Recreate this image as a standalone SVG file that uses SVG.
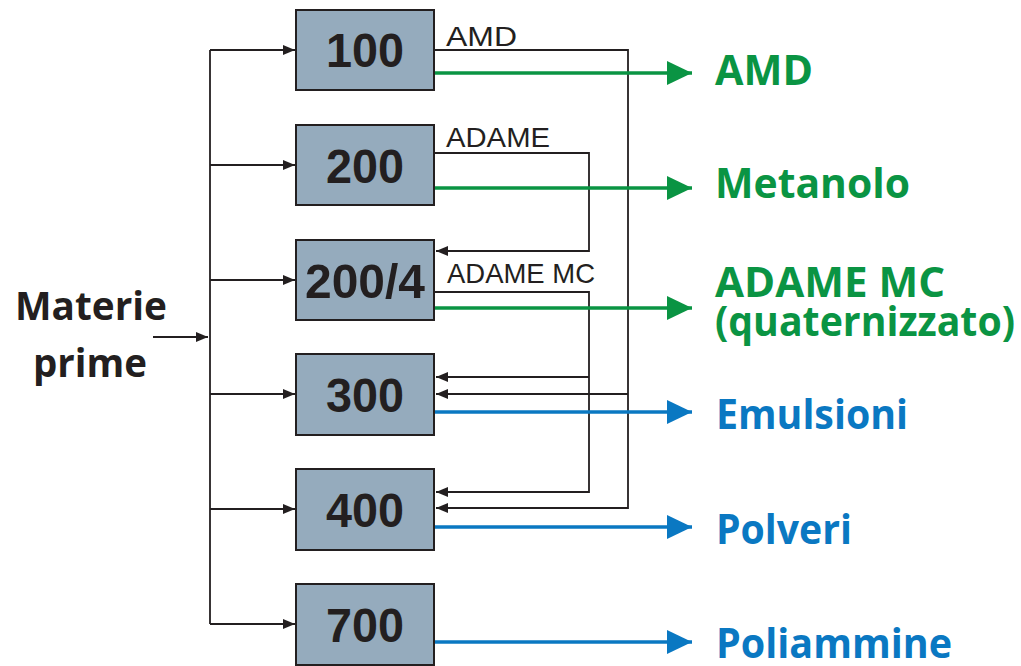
<svg xmlns="http://www.w3.org/2000/svg" width="1021" height="666" viewBox="0 0 1021 666">
<style>
.box{fill:#95abbd;stroke:#231f20;stroke-width:2}
.num{font-family:"Liberation Sans",Arial,sans-serif;font-weight:bold;font-size:49px;fill:#231f20;text-anchor:middle}
.lbl{font-family:"Liberation Sans",Arial,sans-serif;font-size:28px;fill:#231f20}
.k{fill:none;stroke:#231f20;stroke-width:1.8}
.g{fill:none;stroke:#0a9443;stroke-width:3.5}
.b{fill:none;stroke:#0a78c2;stroke-width:3.5}
.out{font-family:"Open Sans","Noto Sans",sans-serif;font-weight:bold;font-size:41px}
.gt{fill:#0a9443}
.bt{fill:#0a78c2}
.mp{font-family:"Open Sans","Noto Sans",sans-serif;font-weight:bold;font-size:40px;fill:#231f20}
</style>
<defs>
<marker id="ak" markerWidth="12" markerHeight="10" refX="12" refY="5" orient="auto" markerUnits="userSpaceOnUse"><path d="M0,0 L12,5 L0,10 Z" fill="#231f20"/></marker>
<marker id="ag" markerWidth="25" markerHeight="24" refX="25" refY="12" orient="auto" markerUnits="userSpaceOnUse"><path d="M0,0 L25,12 L0,24 Z" fill="#0a9443"/></marker>
<marker id="ab" markerWidth="25" markerHeight="24" refX="25" refY="12" orient="auto" markerUnits="userSpaceOnUse"><path d="M0,0 L25,12 L0,24 Z" fill="#0a78c2"/></marker>
</defs>
<g id="connectors">
<path class="k" d="M153,337 H208" marker-end="url(#ak)"/>
<path class="k" d="M210,50 V624"/>
<path class="k" d="M210,50 H295" marker-end="url(#ak)"/>
<path class="k" d="M210,165 H295" marker-end="url(#ak)"/>
<path class="k" d="M210,280 H295" marker-end="url(#ak)"/>
<path class="k" d="M210,394 H295" marker-end="url(#ak)"/>
<path class="k" d="M210,509 H295" marker-end="url(#ak)"/>
<path class="k" d="M210,624 H295" marker-end="url(#ak)"/>
<path class="k" d="M434,50 H628 V508 H436" marker-end="url(#ak)"/>
<path class="k" d="M628,394 H436" marker-end="url(#ak)"/>
<path class="k" d="M434,153 H589 V251 H436" marker-end="url(#ak)"/>
<path class="k" d="M434,292 H589 V492 H436" marker-end="url(#ak)"/>
<path class="k" d="M589,377 H436" marker-end="url(#ak)"/>
<path class="g" d="M434,73 H692" marker-end="url(#ag)"/>
<path class="g" d="M434,188 H692" marker-end="url(#ag)"/>
<path class="g" d="M434,308 H692" marker-end="url(#ag)"/>
<path class="b" d="M434,412 H692" marker-end="url(#ab)"/>
<path class="b" d="M434,527 H692" marker-end="url(#ab)"/>
<path class="b" d="M434,642 H692" marker-end="url(#ab)"/>
<text class="lbl" x="446" y="46" textLength="71" lengthAdjust="spacingAndGlyphs">AMD</text>
<text class="lbl" x="446" y="147" textLength="104" lengthAdjust="spacingAndGlyphs">ADAME</text>
<text class="lbl" x="447" y="283" textLength="148" lengthAdjust="spacingAndGlyphs">ADAME MC</text>
</g>
<g id="materie">
<text class="mp" x="15" y="320" textLength="152" lengthAdjust="spacingAndGlyphs">Materie</text>
<text class="mp" x="33" y="377" textLength="114" lengthAdjust="spacingAndGlyphs">prime</text>
</g>
<g id="n100"><rect class="box" x="296" y="10" width="138" height="80"/><text class="num" x="365" y="67" textLength="78" lengthAdjust="spacingAndGlyphs">100</text></g>
<g id="n200"><rect class="box" x="296" y="125" width="138" height="80"/><text class="num" x="365" y="183" textLength="78" lengthAdjust="spacingAndGlyphs">200</text></g>
<g id="n2004"><rect class="box" x="296" y="240" width="138" height="80"/><text class="num" x="365" y="298" textLength="120" lengthAdjust="spacingAndGlyphs">200/4</text></g>
<g id="n300"><rect class="box" x="296" y="354" width="138" height="81"/><text class="num" x="365" y="412" textLength="78" lengthAdjust="spacingAndGlyphs">300</text></g>
<g id="n400"><rect class="box" x="296" y="469" width="138" height="81"/><text class="num" x="365" y="527" textLength="78" lengthAdjust="spacingAndGlyphs">400</text></g>
<g id="n700"><rect class="box" x="296" y="584" width="138" height="81"/><text class="num" x="365" y="642" textLength="78" lengthAdjust="spacingAndGlyphs">700</text></g>
<g id="outputs">
<text class="out gt" x="715" y="85" textLength="98" lengthAdjust="spacingAndGlyphs">AMD</text>
<text class="out gt" x="715" y="198" textLength="195" lengthAdjust="spacingAndGlyphs">Metanolo</text>
<text class="out gt" x="715" y="297" textLength="230" lengthAdjust="spacingAndGlyphs">ADAME MC</text>
<text class="out gt" x="715" y="336" textLength="300" lengthAdjust="spacingAndGlyphs">(quaternizzato)</text>
<text class="out bt" x="716" y="429" textLength="192" lengthAdjust="spacingAndGlyphs">Emulsioni</text>
<text class="out bt" x="716" y="544" textLength="136" lengthAdjust="spacingAndGlyphs">Polveri</text>
<text class="out bt" x="716" y="658" textLength="236" lengthAdjust="spacingAndGlyphs">Poliammine</text>
</g>
</svg>
